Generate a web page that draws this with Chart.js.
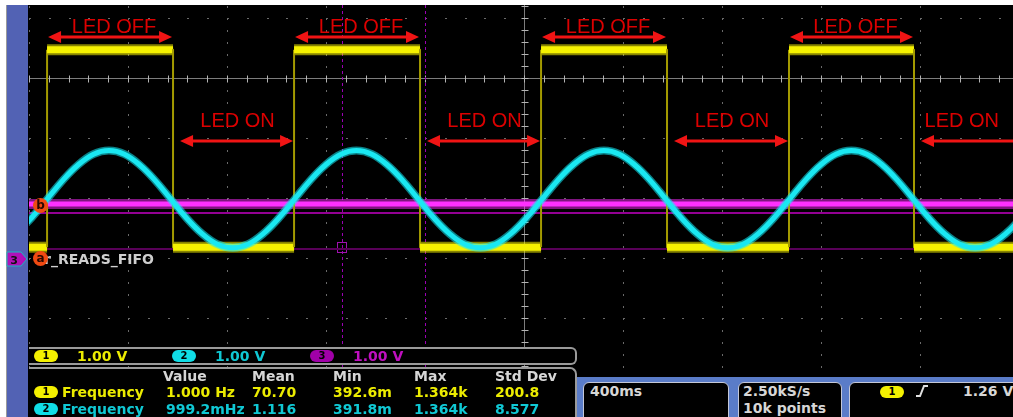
<!DOCTYPE html>
<html><head><meta charset="utf-8">
<script src="https://cdn.jsdelivr.net/npm/chart.js@4.4.1/dist/chart.umd.min.js"></script>
<style>
html,body{margin:0;padding:0;background:#fff;width:1013px;height:417px;overflow:hidden;}
#wrap{position:relative;width:1013px;height:417px;overflow:hidden;}
#blk{position:absolute;left:28px;top:5px;width:985px;height:412px;background:#000;}
#cv{position:absolute;left:0;top:0;}
#bar{position:absolute;left:6px;top:5px;width:21px;height:412px;background:#5262b4;border-left:1px solid #9a9a9a;}
.t{position:absolute;font-family:"DejaVu Sans";font-weight:bold;font-size:14px;line-height:16px;white-space:nowrap;}
.pill{position:absolute;width:24px;height:12px;border-radius:6px;font:bold 10px "DejaVu Sans";color:#000;text-align:center;line-height:12px;}
.y{color:#ecec00}.c{color:#10c8d4}.m{color:#c010c0}.g{color:#d6d6d6}
.py{background:#f4f000}.pc{background:#10dde6}.pm{background:#a000a8}
#chbar{position:absolute;left:29px;top:347px;width:546px;height:14px;border:2px solid #9a9a9a;border-left:none;border-radius:0 6px 6px 0;background:#000;}
#meas{position:absolute;left:29px;top:367px;width:546px;height:60px;border:2px solid #9a9a9a;border-left:none;border-bottom:none;border-radius:0 7px 0 0;background:#000;}
#blue{position:absolute;left:577px;top:377px;width:436px;height:40px;background:#5a7cc8;}
.box{position:absolute;top:382px;height:44px;background:#000;border:1px solid #c4c8d8;border-radius:6px;}
.mk{position:absolute;width:15px;height:15px;border-radius:50%;background:#f04a12;color:#2a0800;font:bold 12px "DejaVu Sans";text-align:center;line-height:14px;}
</style></head>
<body><div id="wrap">
<div id="blk"></div>
<canvas id="cv" width="1013" height="417"></canvas>
<div id="bar"></div>
<svg style="position:absolute;left:6px;top:251px" width="24" height="16"><polygon points="1,1 15,1 21,8 15,15 1,15" fill="#b010b8" stroke="#18b8c0" stroke-width="1"/><text x="8" y="12.5" text-anchor="middle" font-family="DejaVu Sans" font-weight="bold" font-size="11" fill="#101010">3</text></svg>
<div class="t" style="left:44px;top:251px;color:#cfcfcf;">r_READS_FIFO</div>
<div class="mk" style="left:33px;top:198px;">b</div>
<div class="mk" style="left:33px;top:251px;">a</div>

<div id="chbar"></div>
<div class="pill py" style="left:34px;top:350px;">1</div><div class="t y" style="left:77px;top:348px;">1.00 V</div>
<div class="pill pc" style="left:172px;top:350px;">2</div><div class="t c" style="left:215px;top:348px;">1.00 V</div>
<div class="pill pm" style="left:310px;top:350px;">3</div><div class="t m" style="left:353px;top:348px;">1.00 V</div>

<div id="meas"></div>
<div class="t g" style="left:163px;top:368px;">Value</div>
<div class="t g" style="left:252px;top:368px;">Mean</div>
<div class="t g" style="left:333px;top:368px;">Min</div>
<div class="t g" style="left:414px;top:368px;">Max</div>
<div class="t g" style="left:495px;top:368px;">Std Dev</div>
<div class="pill py" style="left:34px;top:386px;">1</div>
<div class="t y" style="left:62px;top:384px;">Frequency</div>
<div class="t y" style="left:166px;top:384px;">1.000 Hz</div>
<div class="t y" style="left:252px;top:384px;">70.70</div>
<div class="t y" style="left:333px;top:384px;">392.6m</div>
<div class="t y" style="left:414px;top:384px;">1.364k</div>
<div class="t y" style="left:495px;top:384px;">200.8</div>
<div class="pill pc" style="left:34px;top:403px;">2</div>
<div class="t c" style="left:62px;top:401px;">Frequency</div>
<div class="t c" style="left:166px;top:401px;">999.2mHz</div>
<div class="t c" style="left:252px;top:401px;">1.116</div>
<div class="t c" style="left:333px;top:401px;">391.8m</div>
<div class="t c" style="left:414px;top:401px;">1.364k</div>
<div class="t c" style="left:495px;top:401px;">8.577</div>

<div id="blue"></div>
<div class="box" style="left:583px;width:144px;"></div>
<div class="box" style="left:738px;width:102px;"></div>
<div class="box" style="left:849px;width:170px;"></div>
<div class="t g" style="left:590px;top:383px;">400ms</div>
<div class="t g" style="left:743px;top:383px;">2.50kS/s</div>
<div class="t g" style="left:743px;top:400px;">10k points</div>
<div class="pill py" style="left:880px;top:386px;">1</div>
<svg style="position:absolute;left:914px;top:383px" width="18" height="16"><polyline points="2,13 6,13 10,3 14,3" fill="none" stroke="#e0e0e0" stroke-width="2"/></svg>
<div class="t g" style="left:963px;top:383px;">1.26 V</div>
</div>
<script>
// ---- data (time in ms, amplitude in screen divisions above bottom of graticule) ----
const timeRangeMs = [0, 3976];
const divRange = [0, 6.2167];
const gridStepMs = 400;
const gridRowsDiv = [1, 2, 3, 4, 5, 6];
const centerMs = 2000;
const centerDiv = 5;
const ch1EdgesMs = [73, 582, 1071, 1580, 2069, 2578, 3071, 3576]; // rise, fall, rise, ...
const ch1LowDiv = 2.18;
const ch1HighDiv = 5.47;
const ch2StartMs = -52;
const ch2StepMs = 62.5;
const ch2Div = [2.41, 2.67, 2.98, 3.29, 3.55, 3.73, 3.79, 3.73, 3.55, 3.29, 2.98, 2.67, 2.41, 2.23, 2.17, 2.23,
                2.41, 2.67, 2.98, 3.29, 3.55, 3.73, 3.79, 3.73, 3.55, 3.29, 2.98, 2.67, 2.41, 2.23, 2.17, 2.23,
                2.41, 2.67, 2.98, 3.29, 3.55, 3.73, 3.79, 3.73, 3.55, 3.29, 2.98, 2.67, 2.41, 2.23, 2.17, 2.23,
                2.41, 2.67, 2.98, 3.29, 3.55, 3.73, 3.79, 3.73, 3.55, 3.29, 2.98, 2.67, 2.41, 2.23, 2.17, 2.23,
                2.41, 2.67];
const ch3Div = 2.90;
const refBDiv = 2.75;
const ch3GroundDiv = 2.15;
const cursorMs = [1265, 1600];
const ledOffLabel = "LED OFF";
const ledOnLabel = "LED ON";
const ledOffArrowDiv = 5.68;
const ledOnArrowDiv = 3.95;

// ---- build datasets ----
const ch1Pts = [{x: timeRangeMs[0], y: ch1LowDiv}];
ch1EdgesMs.forEach((t, i) => {
  const rising = i % 2 === 0;
  ch1Pts.push({x: t, y: rising ? ch1LowDiv : ch1HighDiv});
  ch1Pts.push({x: t, y: rising ? ch1HighDiv : ch1LowDiv});
});
ch1Pts.push({x: timeRangeMs[1], y: ch1LowDiv});
const ch2Pts = ch2Div.map((v, i) => ({x: ch2StartMs + i * ch2StepMs, y: v}));
const flat = v => [{x: timeRangeMs[0], y: v}, {x: timeRangeMs[1], y: v}];
const isVert = c => c.p0.parsed.x === c.p1.parsed.x;

const graticule = {
  id: 'graticule',
  beforeDatasetsDraw(chart) {
    const {ctx, chartArea: ca, scales: {x, y}} = chart;
    ctx.save();
    ctx.fillStyle = '#6a6a6a';
    for (let t = timeRangeMs[0]; t <= timeRangeMs[1]; t += gridStepMs) {
      if (t === centerMs) continue;
      const px = Math.round(x.getPixelForValue(t));
      for (let v = 0; v <= divRange[1]; v += 0.2) {
        ctx.fillRect(px, Math.round(y.getPixelForValue(v)), 1, 2);
      }
    }
    gridRowsDiv.forEach(v => {
      if (v === centerDiv) return;
      const py = Math.round(y.getPixelForValue(v));
      for (let t = timeRangeMs[0]; t <= timeRangeMs[1]; t += gridStepMs / 5) {
        ctx.fillRect(Math.round(x.getPixelForValue(t)), py, 2, 1);
      }
    });
    const cx = Math.round(x.getPixelForValue(centerMs)) + 0.5;
    const cy = Math.round(y.getPixelForValue(centerDiv)) + 0.5;
    ctx.strokeStyle = '#7c7c7c'; ctx.lineWidth = 1;
    ctx.beginPath(); ctx.moveTo(cx, ca.top); ctx.lineTo(cx, ca.bottom);
    ctx.moveTo(ca.left, cy); ctx.lineTo(ca.right, cy); ctx.stroke();
    ctx.strokeStyle = '#b4b4b4';
    ctx.beginPath();
    for (let v = 0; v <= divRange[1]; v += 0.2) {
      const py = Math.round(y.getPixelForValue(v)) + 0.5;
      ctx.moveTo(cx - 3, py); ctx.lineTo(cx + 4, py);
    }
    for (let t = timeRangeMs[0]; t <= timeRangeMs[1]; t += gridStepMs / 5) {
      const px = Math.round(x.getPixelForValue(t)) + 0.5;
      ctx.moveTo(px, cy - 3); ctx.lineTo(px, cy + 4);
    }
    ctx.stroke();
    ctx.strokeStyle = '#9a00b4'; ctx.setLineDash([3, 3]);
    ctx.beginPath();
    cursorMs.forEach(t => { const px = Math.round(x.getPixelForValue(t)) + 0.5; ctx.moveTo(px, ca.top); ctx.lineTo(px, ca.bottom); });
    ctx.stroke();
    ctx.setLineDash([]);
    const sx = Math.round(x.getPixelForValue(cursorMs[0])), sy = Math.round(y.getPixelForValue(ch3GroundDiv));
    ctx.strokeStyle = '#a010b0';
    ctx.strokeRect(sx - 4.5, sy - 6.5, 9, 10);
    ctx.restore();
  }
};

function arrow(ctx, x0, x1, py) {
  const L = 13, H = 6;
  ctx.beginPath(); ctx.moveTo(x0 + L - 1, py); ctx.lineTo(x1 - L + 1, py); ctx.stroke();
  ctx.beginPath(); ctx.moveTo(x0, py); ctx.lineTo(x0 + L, py - H); ctx.lineTo(x0 + L, py + H); ctx.closePath(); ctx.fill();
  ctx.beginPath(); ctx.moveTo(x1, py); ctx.lineTo(x1 - L, py - H); ctx.lineTo(x1 - L, py + H); ctx.closePath(); ctx.fill();
}

const annotations = {
  id: 'annotations',
  afterDatasetsDraw(chart) {
    const {ctx, chartArea: ca, scales: {x, y}} = chart;
    ctx.save();
    ctx.beginPath(); ctx.rect(ca.left, ca.top, ca.right - ca.left, ca.bottom - ca.top); ctx.clip();
    ctx.font = '20px "Liberation Sans", Arial, sans-serif';
    ctx.textAlign = 'center'; ctx.textBaseline = 'alphabetic';
    ctx.lineWidth = 3;
    for (let i = 0; i < ch1EdgesMs.length; i++) {
      const off = i % 2 === 0;
      const t0 = ch1EdgesMs[i];
      const t1 = i + 1 < ch1EdgesMs.length ? ch1EdgesMs[i + 1] : timeRangeMs[1] + 150;
      const x0 = x.getPixelForValue(t0) + 1, x1 = x.getPixelForValue(t1) - 1;
      const py = Math.round(y.getPixelForValue(off ? ledOffArrowDiv : ledOnArrowDiv));
      ctx.fillStyle = '#f01414'; ctx.strokeStyle = '#f01414';
      arrow(ctx, x0 + (off ? 0 : 6), x1, py);
      const label = off ? ledOffLabel : ledOnLabel;
      const w = ctx.measureText(label).width;
      let cx = (x0 + x1) / 2 + 4;
      cx = Math.min(cx, ca.right - 14 - w / 2);
      ctx.fillStyle = '#dc0000';
      ctx.fillText(label, cx, off ? py - 4 : py - 14);
    }
    ctx.restore();
  }
};

new Chart(document.getElementById('cv'), {
  type: 'line',
  data: {datasets: [
    {data: flat(ch3GroundDiv), borderColor: '#580058', borderWidth: 2, order: 9},
    {data: flat(refBDiv), borderColor: '#c400c4', borderWidth: 1.5, order: 8},
    {data: flat(ch3Div), borderColor: 'rgba(255,40,255,0.5)', borderWidth: 10, order: 7},
    {data: flat(ch3Div), borderColor: '#ff30ff', borderWidth: 5, order: 6},
    {data: ch1Pts, borderColor: 'rgba(245,240,0,0.55)', borderWidth: 11, order: 5,
     segment: {borderColor: c => isVert(c) ? 'rgba(0,0,0,0)' : 'rgba(245,240,0,0.55)', borderWidth: c => isVert(c) ? 1 : 11}},
    {data: ch1Pts, borderColor: '#f2ee00', borderWidth: 7, order: 4,
     segment: {borderColor: c => isVert(c) ? '#a39a00' : '#f6f200', borderWidth: c => isVert(c) ? 2 : 7}},
    {data: ch2Pts, borderColor: 'rgba(20,235,245,0.55)', borderWidth: 8, tension: 0.4, order: 3},
    {data: ch2Pts, borderColor: '#1ae8f2', borderWidth: 5, tension: 0.4, order: 2}
  ]},
  options: {
    responsive: false, devicePixelRatio: 1, animation: false, events: [],
    layout: {padding: {left: 29, top: 5, right: 0, bottom: 39}},
    plugins: {legend: {display: false}, tooltip: {enabled: false}},
    elements: {point: {radius: 0}, line: {borderCapStyle: 'butt', borderJoinStyle: 'round', fill: false}},
    scales: {
      x: {type: 'linear', min: timeRangeMs[0], max: timeRangeMs[1], display: false},
      y: {type: 'linear', min: divRange[0], max: divRange[1], display: false}
    }
  },
  plugins: [graticule, annotations]
});
</script>
</body></html>
